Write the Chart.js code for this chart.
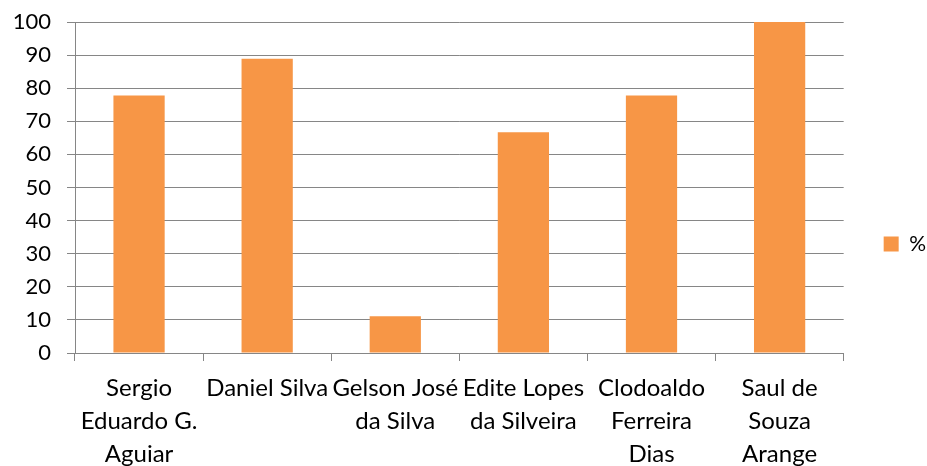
<!DOCTYPE html>
<html>
<head>
<meta charset="utf-8">
<script src="https://cdn.jsdelivr.net/npm/chart.js@4"></script>
<style>
  html, body { margin: 0; padding: 0; background: #fff; }
  #wrap { width: 927px; height: 466px; }
</style>
</head>
<body>
<div id="wrap"><canvas id="chart" width="927" height="466"></canvas></div>
<script>
// data
const categories = [
    ['Sergio', 'Eduardo G.', 'Aguiar'],
    ['Daniel Silva'],
    ['Gelson José', 'da Silva'],
    ['Edite Lopes', 'da Silveira'],
    ['Clodoaldo', 'Ferreira', 'Dias'],
    ['Saul de', 'Souza', 'Arange']
];
const percentValues = [77.8, 88.9, 11.1, 66.7, 77.8, 100];
const seriesName = '%';
const yMin = 0, yMax = 100, yStep = 10;

const barColor = '#F79646';
const gridColor = '#868686';
const fontFamily = 'Lato, "Liberation Sans", sans-serif';

const ctx = document.getElementById('chart').getContext('2d');
new Chart(ctx, {
    type: 'bar',
    data: {
        labels: categories,
        datasets: [{
            label: seriesName,
            data: percentValues,
            backgroundColor: barColor,
            borderWidth: 0,
            categoryPercentage: 1,
            barPercentage: 0.4
        }]
    },
    options: {
        responsive: false,
        animation: false,
        layout: { padding: { top: 22, right: -9, left: 0, bottom: 0 } },
        plugins: {
            tooltip: { enabled: false },
            legend: {
                position: 'right',
                labels: {
                    color: '#000',
                    boxWidth: 15, boxHeight: 15,
                    padding: 40,
                    font: { family: fontFamily, size: 21 }
                }
            }
        },
        scales: {
            x: {
                offset: true,
                grid: { drawOnChartArea: false, drawTicks: true, tickLength: 8, color: gridColor, offset: true },
                border: { color: gridColor, width: 1 },
                ticks: {
                    color: '#000', autoSkip: false, maxRotation: 0, minRotation: 0,
                    padding: 11,
                    font: { family: fontFamily, size: 24, lineHeight: 1.375 }
                },
                afterFit: s => { s.height = 113; }
            },
            y: {
                min: yMin, max: yMax,
                grid: { color: gridColor, tickLength: 8 },
                border: { color: gridColor, width: 1 },
                ticks: {
                    stepSize: yStep, color: '#000', padding: 16,
                    font: { family: fontFamily, size: 22 }
                },
                afterFit: s => { s.width = 75; s.paddingTop = 0; s.paddingBottom = 0; }
            }
        }
    }
});
</script>
</body>
</html>
